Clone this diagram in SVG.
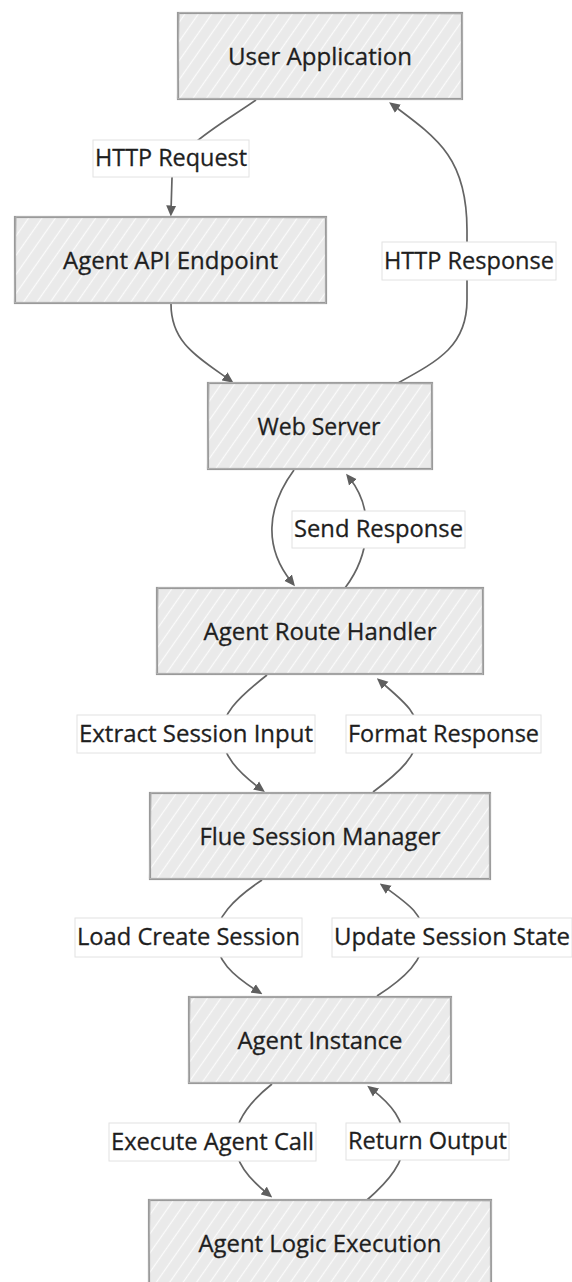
<svg xmlns="http://www.w3.org/2000/svg" width="572" height="1282" viewBox="0 0 572 1282">
  <defs>
    <!-- diagonal hachure fill for the sketchy boxes -->
    <pattern id="hatch" width="11" height="11" patternUnits="userSpaceOnUse" patternTransform="rotate(35)">
      <rect width="11" height="11" fill="#eaeaea"/>
      <line x1="5.5" y1="0" x2="5.5" y2="11" stroke="#fbfbfb" stroke-width="1.3"/>
    </pattern>
    <marker id="arrow" viewBox="0 0 11 11" markerWidth="11" markerHeight="11" refX="5.5" refY="5.5" orient="auto" markerUnits="userSpaceOnUse">
      <path d="M0,0.5 L11,5.5 L0,10.5 z" fill="#5e5e5e"/>
    </marker>
    <style>
      .box { fill: url(#hatch); stroke: #999999; stroke-width: 2.2; }
      .box2 { fill: none; stroke: #b0b0b0; stroke-width: 1; }
      .ntext { font-family: "Open Sans", "Noto Sans", sans-serif; font-size: 24px; fill: #1e1e1e; stroke: #1e1e1e; stroke-width: 0.3; text-anchor: middle; }
      .edge { fill: none; stroke: #646464; stroke-width: 1.7; marker-end: url(#arrow); }
      .lbl { fill: #ffffff; stroke: #e2e2e2; stroke-width: 1; }
      .ltext { font-family: "Open Sans", "Noto Sans", sans-serif; font-size: 24px; fill: #1e1e1e; stroke: #1e1e1e; stroke-width: 0.3; text-anchor: middle; }
    </style>
  </defs>

  <rect width="572" height="1282" fill="#ffffff"/>

  <!-- connectors and their labels -->
  <g id="connectors">
    <g id="edge-http-request">
      <path class="edge" d="M256,100 C225,122 172,150 172,178 L171,211"/>
      <rect class="lbl" x="93" y="140" width="156" height="37"/>
      <text class="ltext" x="171" y="166" textLength="152" lengthAdjust="spacingAndGlyphs">HTTP Request</text>
    </g>
    <g id="edge-endpoint-server">
      <path class="edge" d="M171,304 C171,342 196,356 229,379.5"/>
    </g>
    <g id="edge-http-response">
      <path class="edge" d="M398,383 C440,360 467,345 467,300 L467,230 C467,160 440,140 393.5,105.5"/>
      <rect class="lbl" x="382" y="242" width="174" height="38"/>
      <text class="ltext" x="469" y="268.5" textLength="170" lengthAdjust="spacingAndGlyphs">HTTP Response</text>
    </g>
    <g id="edge-server-route">
      <path class="edge" d="M294,470 C266,508 264,548 291.5,582"/>
    </g>
    <g id="edge-send-response">
      <path class="edge" d="M345,588 C370,555 375,510 349.5,478"/>
      <rect class="lbl" x="292" y="511" width="173" height="37"/>
      <text class="ltext" x="378.5" y="537" textLength="169" lengthAdjust="spacingAndGlyphs">Send Response</text>
    </g>
    <g id="edge-extract-input">
      <path class="edge" d="M267,675 C235,700 222,715 222,734 C222,755 238,772 260.5,788.8"/>
      <rect class="lbl" x="77" y="715" width="238" height="38"/>
      <text class="ltext" x="196" y="741.5" textLength="234" lengthAdjust="spacingAndGlyphs">Extract Session Input</text>
    </g>
    <g id="edge-format-response">
      <path class="edge" d="M373,792 C400,772 418,755 418,734 C418,712 404,702 381,681.8"/>
      <rect class="lbl" x="346" y="715" width="195" height="38"/>
      <text class="ltext" x="443.5" y="741.5" textLength="191" lengthAdjust="spacingAndGlyphs">Format Response</text>
    </g>
    <g id="edge-load-session">
      <path class="edge" d="M262,880 C232,900 216,918 216,937.5 C216,960 232,975 257.8,991.3"/>
      <rect class="lbl" x="75" y="918" width="227" height="39"/>
      <text class="ltext" x="188.5" y="945" textLength="223" lengthAdjust="spacingAndGlyphs">Load Create Session</text>
    </g>
    <g id="edge-update-state">
      <path class="edge" d="M377,996 C405,978 424,960 424,937.5 C424,915 410,905 384.2,886.6"/>
      <rect class="lbl" x="332" y="918" width="240" height="39"/>
      <text class="ltext" x="452" y="945" textLength="236" lengthAdjust="spacingAndGlyphs">Update Session State</text>
    </g>
    <g id="edge-execute-call">
      <path class="edge" d="M272,1084 C248,1103 235,1122 235,1142 C235,1162 248,1178 268,1194"/>
      <rect class="lbl" x="109" y="1123" width="207" height="38"/>
      <text class="ltext" x="212.5" y="1149.5" textLength="203" lengthAdjust="spacingAndGlyphs">Execute Agent Call</text>
    </g>
    <g id="edge-return-output">
      <path class="edge" d="M367,1200 C390,1180 404,1162 404,1142 C404,1120 392,1105 371.6,1089.2"/>
      <rect class="lbl" x="346" y="1123" width="163" height="37"/>
      <text class="ltext" x="427.5" y="1149" textLength="159" lengthAdjust="spacingAndGlyphs">Return Output</text>
    </g>
  </g>

  <!-- nodes -->
  <g id="user-application">
    <rect class="box" x="178" y="13" width="284" height="86"/>
    <path class="box2" d="M179,12.5 L462.5,13.8 L461.5,99.5 L177.4,98.5 Z"/>
    <text class="ntext" x="320" y="64.5" textLength="184" lengthAdjust="spacingAndGlyphs">User Application</text>
  </g>
  <g id="agent-api-endpoint">
    <rect class="box" x="15" y="217" width="311" height="86"/>
    <path class="box2" d="M16,216.5 L326.5,217.8 L325.5,303.5 L14.4,302.5 Z"/>
    <text class="ntext" x="170.5" y="268.5" textLength="215" lengthAdjust="spacingAndGlyphs">Agent API Endpoint</text>
  </g>
  <g id="web-server">
    <rect class="box" x="208" y="383" width="224" height="86"/>
    <path class="box2" d="M209,382.5 L432.5,383.8 L431.5,469.5 L207.4,468.5 Z"/>
    <text class="ntext" x="319" y="435" textLength="123" lengthAdjust="spacingAndGlyphs">Web Server</text>
  </g>
  <g id="agent-route-handler">
    <rect class="box" x="157" y="588" width="326" height="86"/>
    <path class="box2" d="M158,587.5 L483.5,588.8 L482.5,674.5 L156.4,673.5 Z"/>
    <text class="ntext" x="320" y="639.5" textLength="233" lengthAdjust="spacingAndGlyphs">Agent Route Handler</text>
  </g>
  <g id="flue-session-manager">
    <rect class="box" x="150" y="793" width="340" height="86"/>
    <path class="box2" d="M151,792.5 L490.5,793.8 L489.5,879.5 L149.4,878.5 Z"/>
    <text class="ntext" x="320" y="844.5" textLength="241" lengthAdjust="spacingAndGlyphs">Flue Session Manager</text>
  </g>
  <g id="agent-instance">
    <rect class="box" x="189" y="997" width="262" height="86"/>
    <path class="box2" d="M190,996.5 L451.5,997.8 L450.5,1083.5 L188.4,1082.5 Z"/>
    <text class="ntext" x="320" y="1048.5" textLength="165" lengthAdjust="spacingAndGlyphs">Agent Instance</text>
  </g>
  <g id="agent-logic-execution">
    <rect class="box" x="149" y="1200" width="342" height="86"/>
    <path class="box2" d="M150,1199.5 L491.5,1200.8 L490.5,1286.5 L148.4,1285.5 Z"/>
    <text class="ntext" x="320" y="1251.5" textLength="243" lengthAdjust="spacingAndGlyphs">Agent Logic Execution</text>
  </g>
</svg>
